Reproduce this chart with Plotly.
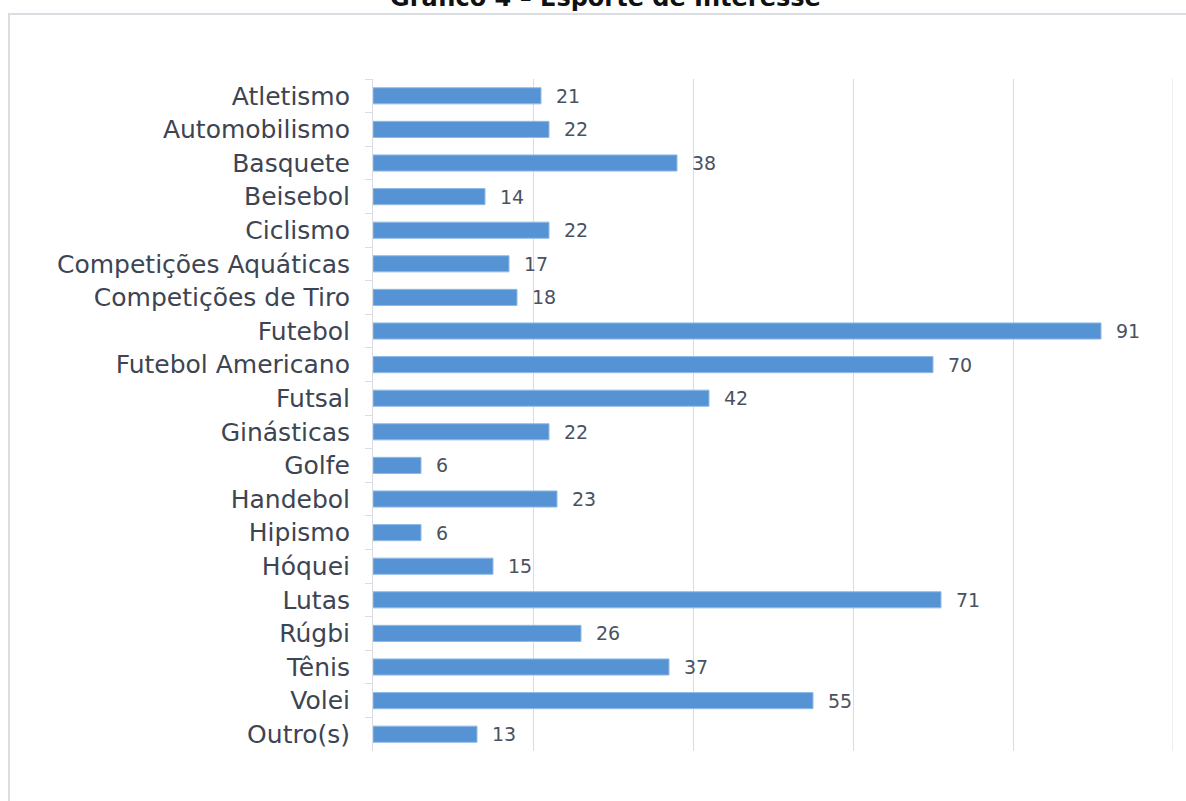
import plotly.graph_objects as go

# Sports of interest and the number of respondents for each
esportes = [
    "Atletismo", "Automobilismo", "Basquete", "Beisebol", "Ciclismo",
    "Competições Aquáticas", "Competições de Tiro", "Futebol",
    "Futebol Americano", "Futsal", "Ginásticas", "Golfe", "Handebol",
    "Hipismo", "Hóquei", "Lutas", "Rúgbi", "Tênis", "Volei", "Outro(s)",
]
respostas = [21, 22, 38, 14, 22, 17, 18, 91, 70, 42, 22, 6, 23, 6, 15, 71, 26, 37, 55, 13]

eixo_x_ticks = [0, 20, 40, 60, 80, 100]

W, H = 1186, 801
ML, MR, MT, MB = 373, 13, 79, 50
plot_w = W - ML - MR
plot_h = H - MT - MB
GRID = "#d9dde3"


def px_to_paper_y(p):
    return 1 - (p - MT) / plot_h


def px_to_paper_x(p):
    return (p - ML) / plot_w


fig = go.Figure()
fig.add_trace(go.Bar(
    x=respostas,
    y=esportes,
    orientation="h",
    width=0.48,
    marker=dict(color="#5693d5", line=dict(color="#8fbbe6", width=1)),
    hoverinfo="x+y",
))

# value labels to the right of each bar
for nome, valor in zip(esportes, respostas):
    fig.add_annotation(
        x=valor, y=nome, xref="x", yref="y",
        text=str(valor), showarrow=False,
        xanchor="left", yanchor="middle", xshift=13, yshift=0,
        font=dict(family="DejaVu Sans", size=19, color="#4a5261"),
    )

# closing gridline at the end of the value range
fig.add_shape(
    type="line", xref="x", yref="paper",
    x0=eixo_x_ticks[-1], x1=eixo_x_ticks[-1], y0=0, y1=1,
    line=dict(color=GRID, width=1), layer="below",
)

# title, partly above the page edge
fig.add_annotation(
    x=px_to_paper_x(605), y=px_to_paper_y(-2), xref="paper", yref="paper",
    text="<b>Gráfico 4 – Esporte de Interesse</b>", showarrow=False,
    xanchor="center", yanchor="middle",
    font=dict(family="DejaVu Sans", size=24, color="#111111"),
)

# frame around the chart
fig.add_shape(
    type="rect", xref="paper", yref="paper",
    x0=px_to_paper_x(9), x1=px_to_paper_x(1220),
    y0=px_to_paper_y(830), y1=px_to_paper_y(14),
    line=dict(color="#dadde2", width=2), fillcolor="rgba(0,0,0,0)",
    layer="below",
)

fig.update_layout(
    width=W, height=H,
    margin=dict(l=ML, r=MR, t=MT, b=MB),
    paper_bgcolor="white", plot_bgcolor="white",
    showlegend=False,
    bargap=0.52,
    xaxis=dict(
        range=[0, 100], tickvals=eixo_x_ticks, showticklabels=False,
        showgrid=True, gridcolor=GRID, gridwidth=1,
        zeroline=False, showline=False, fixedrange=True,
    ),
    yaxis=dict(
        autorange="reversed", type="category",
        showline=True, linecolor=GRID, linewidth=1,
        ticks="outside", tickson="boundaries", ticklen=7, tickcolor=GRID,
        ticklabelstandoff=17,
        tickfont=dict(family="DejaVu Sans", size=25, color="#3d4452"),
        showgrid=False, fixedrange=True,
    ),
)

fig.write_html("out.html")
